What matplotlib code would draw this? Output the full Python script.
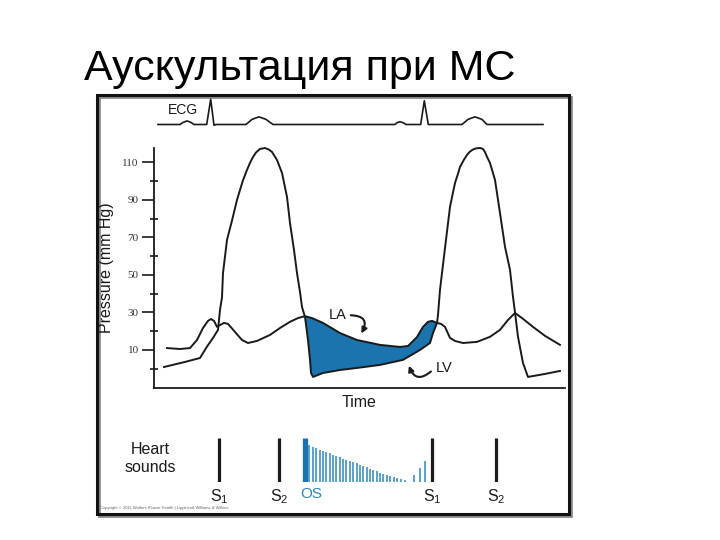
import numpy as np
import matplotlib.pyplot as plt
from matplotlib.patches import Rectangle

plt.rcParams['font.family'] = ['Liberation Sans', 'DejaVu Sans']

# time in arbitrary units, pressure in mm Hg
lv_t = [10, 31, 46, 53, 59, 64, 66, 68, 69, 73, 78, 83, 86, 89, 93, 96, 99, 102, 106, 111,
        115, 118, 123, 128, 133, 136, 140, 143, 146, 148, 151, 154, 156, 157, 159, 169, 186,
        203, 226, 249, 266, 276, 279, 283, 284, 286, 288, 292, 296, 299, 301, 304, 306, 310,
        313, 316, 319, 322, 326, 329, 331, 333, 336, 341, 346, 351, 356, 359, 361, 364, 369,
        374, 391, 406]
lv_p = [0.9, 3.6, 5.7, 11.8, 16.4, 20.7, 31.3, 38, 51, 68.7, 79, 90, 95.3, 100.5, 106, 109.8,
        112.9, 115.3, 117.2, 117.7, 116.8, 115.6, 111.3, 104.4, 91.6, 77.7, 63.3, 51, 40.9,
        32.9, 27.6, 15.3, 4.7, -2.3, -4.4, -2.3, -0.7, 0.4, 2, 4.7, 10, 13.7, 19, 24.4, 28.7,
        42, 51, 68.7, 86.3, 94, 99, 104, 107.6, 111.5, 114, 115.8, 116.9, 117.5, 117.7, 117.2,
        115.5, 113, 109.7, 100.7, 83, 65, 52.7, 38.3, 30, 17, 3, -4.4, -2.8, -1.2]

la_t = [13, 26, 36, 43, 49, 54, 57, 60, 63, 66, 70, 74, 81, 88, 94, 103, 116, 126, 136, 144,
        151, 158, 169, 186, 203, 226, 246, 254, 263, 269, 274, 278, 283, 287, 291, 296, 301,
        309, 323, 336, 346, 354, 361, 368, 379, 391, 406]
la_p = [11, 10.5, 11, 15.3, 21.7, 25.5, 26.5, 25.5, 22.3, 23.3, 24.4, 23.9, 19.6, 15.3, 13.7,
        14.8, 18, 21.7, 25, 27, 28, 27, 24.4, 19, 15.3, 12.7, 11.6, 12.1, 16.9, 22.3, 25, 25.5,
        24.4, 23.9, 22.3, 16.4, 14.8, 13.7, 14.3, 17, 20.7, 26, 29.7, 27, 22.3, 17.5, 12.7]

# gradient between LA and LV during diastole
fill_start, fill_end = 151, 283

ecg_t = [4, 26, 29, 33, 37, 40, 52.7, 56.7, 60, 62, 92, 98, 105, 112, 119, 241, 243, 246,
         249, 252, 266.7, 270.3, 274.3, 308, 314, 321, 328, 333, 389]
ecg_v = [0, 0, 0.08, 0.14, 0.08, 0, 0, 0.99, -0.03, 0, 0, 0.2, 0.3, 0.2, 0, 0, 0.07, 0.11,
         0.07, 0, 0, 0.93, 0, 0, 0.2, 0.3, 0.2, 0, 0]

s_t = [65, 125, 278, 342]
s_h = [1.0, 1.0, 1.0, 1.0]
s_labels = ['1', '2', '1', '2']
os_t = 150.5
murmur_t = [155.3, 158.7, 162.0, 165.7, 169.0, 172.3, 175.7, 179.0, 182.3, 185.7, 189.0,
            192.3, 196.0, 199.3, 202.7, 206.0, 209.3, 212.7, 216.0, 219.3, 222.7, 226.0,
            229.3, 232.7, 236.0, 240.0, 243.3, 247.0, 251.0]
murmur_h = [0.84, 0.80, 0.77, 0.73, 0.70, 0.675, 0.65, 0.61, 0.59, 0.56, 0.53, 0.50, 0.47,
            0.45, 0.425, 0.39, 0.36, 0.33, 0.30, 0.27, 0.24, 0.21, 0.18, 0.16, 0.14, 0.11,
            0.09, 0.07, 0.05]
presys_t = [260, 266, 271]
presys_h = [0.16, 0.31, 0.48]

ink = '#1a1a1a'
blue = '#1b74ad'

W, H = 720, 540
fig = plt.figure(figsize=(7.2, 5.4), dpi=100)


def px_axes(x0, y0, x1, y1):
    return fig.add_axes([x0 / W, 1 - y1 / H, (x1 - x0) / W, (y1 - y0) / H])


# overlay for frame and title
deco = fig.add_axes([0, 0, 1, 1])
deco.set_xlim(0, W)
deco.set_ylim(H, 0)
deco.axis('off')
deco.add_patch(Rectangle((99, 97), 472, 419, fill=False, lw=2.0, ec='#8a8a8a'))
deco.add_patch(Rectangle((97, 95), 472, 419, fill=False, lw=2.2, ec='#111111'))
deco.text(84, 80, 'Аускультация при МС', fontsize=31, va='baseline', ha='left', color='black')
deco.text(100, 508, 'Copyright \u00a9 2011 Wolters Kluwer Health | Lippincott Williams & Wilkins',
          fontsize=3, color='#666666', va='center')

# pressure panel
ax = px_axes(154, 148, 565, 388)
ax.set_xlim(0, 411)
ax.set_ylim(-10.3, 117.7)
for s in ['top', 'right']:
    ax.spines[s].set_visible(False)
ax.spines['left'].set_linewidth(1.3)
ax.spines['bottom'].set_linewidth(1.3)
ax.spines['left'].set_color(ink)
ax.spines['bottom'].set_color(ink)
ax.set_xticks([])
ax.set_yticks(np.arange(10, 111, 20))
ax.set_yticks(np.arange(0, 101, 20), minor=True)
ax.tick_params(axis='y', which='major', direction='out', length=9, width=1.2,
               color=ink, labelsize=8, labelcolor='#333333', pad=2)
ax.tick_params(axis='y', which='minor', direction='inout', length=6, width=1.2, color=ink)
for lab in ax.get_yticklabels():
    lab.set_family(['Liberation Serif', 'DejaVu Serif'])
ax.patch.set_alpha(0)

lv_t_a, lv_p_a = np.array(lv_t), np.array(lv_p)
la_t_a, la_p_a = np.array(la_t), np.array(la_p)
m_la = (la_t_a >= fill_start) & (la_t_a <= fill_end)
m_lv = (lv_t_a >= fill_start) & (lv_t_a <= fill_end)
poly_t = np.concatenate([la_t_a[m_la], lv_t_a[m_lv][::-1]])
poly_p = np.concatenate([la_p_a[m_la], lv_p_a[m_lv][::-1]])
ax.fill(poly_t, poly_p, color=blue, lw=0, zorder=1)

ax.plot(lv_t, lv_p, color=ink, lw=1.4, solid_joinstyle='round', clip_on=False, zorder=3)
ax.plot(la_t, la_p, color=ink, lw=1.4, solid_joinstyle='round', clip_on=False, zorder=3)

ax.text(-47, 53.7, 'Pressure (mm Hg)', rotation=90, ha='center', va='center',
        fontsize=11.5, color=ink, transform=ax.transData, clip_on=False)
ax.set_xlabel('Time', fontsize=11.5, color=ink, labelpad=5)

ax.text(184, 28.5, 'LA', fontsize=10.5, ha='center', va='center', color=ink)
ax.annotate('', xy=(206, 17.5), xytext=(194, 28.5),
            arrowprops=dict(arrowstyle='-|>', lw=1.5, color=ink, mutation_scale=8,
                            connectionstyle='arc3,rad=-0.9'))
ax.text(290, 0.5, 'LV', fontsize=10.5, ha='center', va='center', color=ink)
ax.annotate('', xy=(254, 3.0), xytext=(279, -0.5),
            arrowprops=dict(arrowstyle='-|>', lw=1.5, color=ink, mutation_scale=8,
                            connectionstyle='arc3,rad=-0.8'))

# ECG strip
ecg = px_axes(154, 95, 565, 130)
ecg.set_xlim(0, 411)
ecg.set_ylim(-0.216, 1.157)
ecg.axis('off')
ecg.plot(ecg_t, ecg_v, color=ink, lw=1.2, solid_joinstyle='round')
ecg.text(14, 0.55, 'ECG', fontsize=10, ha='left', va='center', color=ink)

# heart sounds
hs = px_axes(154, 438, 565, 482)
hs.set_xlim(0, 411)
hs.set_ylim(0, 1)
hs.axis('off')
hs.vlines(s_t, 0, s_h, color=ink, lw=2.3)
hs.vlines([os_t], 0, [1.0], color=blue, lw=3.8)
hs.vlines(murmur_t, 0, murmur_h, color='#2f86bb', lw=1.1)
hs.vlines(presys_t, 0, presys_h, color='#2f86bb', lw=1.1)
for t, lab in zip(s_t, s_labels):
    hs.text(t, -0.33, 'S$_\\mathregular{' + lab + '}$', fontsize=11.5, ha='center',
            va='center', color=ink)
hs.text(os_t - 4, -0.28, 'OS', fontsize=11, ha='left', va='center', color='#2a86b8')
hs.text(-4, 0.53, 'Heart\nsounds', fontsize=11.5, ha='center', va='center',
        color=ink, linespacing=1.25)

fig.savefig('out.png', dpi=100)
